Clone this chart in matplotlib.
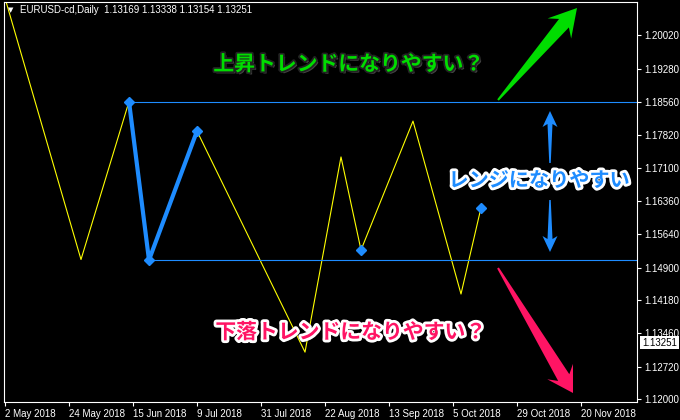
import numpy as np
import matplotlib
matplotlib.use("Agg")
import matplotlib.pyplot as plt
import matplotlib.patheffects as pe
from matplotlib.patches import Polygon

# zigzag vertices (bar index, price)
bar_idx = [0, 19, 31, 36, 48, 75, 84, 89, 102, 114, 119]
prices = [1.2084, 1.1508, 1.1856, 1.1507, 1.1791, 1.1304, 1.1734, 1.1529, 1.1813, 1.1432, 1.1622]
blue_seg = [2, 3, 4]
diamond_pts = [2, 3, 4, 7, 10]
range_top = 1.1856
range_bot = 1.1507
last_price = 1.13251

date_ticks = [0, 16, 32, 48, 64, 80, 96, 112, 128, 144]
date_labels = ["2 May 2018", "24 May 2018", "15 Jun 2018", "9 Jul 2018", "31 Jul 2018",
               "22 Aug 2018", "13 Sep 2018", "5 Oct 2018", "29 Oct 2018", "20 Nov 2018"]
price_ticks = [1.20020, 1.19280, 1.18560, 1.17820, 1.17100, 1.16360, 1.15640,
               1.14900, 1.14180, 1.13460, 1.12720, 1.12000]

W, H = 680, 420
BLUE = "#1e8cff"
GREEN = "#00dd00"
PINK = "#ff1464"

plt.rcParams['font.family'] = ['Liberation Sans', 'DejaVu Sans']
fig = plt.figure(figsize=(W / 100, H / 100), dpi=100, facecolor="black")
ax = fig.add_axes([4 / W, 1 - 402 / H, 633 / W, 400 / H], facecolor="black")

ax.plot(bar_idx, prices, color="yellow", lw=0.8)
ax.plot([bar_idx[i] for i in blue_seg], [prices[i] for i in blue_seg], color=BLUE, lw=3)
ax.plot([bar_idx[i] for i in diamond_pts], [prices[i] for i in diamond_pts], 'D',
        color=BLUE, ms=5.5, ls='none')
ax.plot([bar_idx[2], 158], [range_top, range_top], color=BLUE, lw=0.8)
ax.plot([bar_idx[3], 158], [range_bot, range_bot], color=BLUE, lw=0.8)

ax.set_xlim(-0.25, 158)
ax.set_ylim(1.11941, 1.20754)
ax.set_xticks(date_ticks)
ax.set_xticklabels(date_labels, ha='left')
ax.set_yticks(price_ticks)
ax.set_yticklabels(["%.5f" % p for p in price_ticks])
ax.yaxis.tick_right()
ax.tick_params(colors="white", labelsize=7, length=3, width=0.8, pad=2)
for s in ax.spines.values():
    s.set_color("white")
    s.set_linewidth(0.8)

ax.text(1.008, last_price, "1.13251", transform=ax.get_yaxis_transform(), color="black",
        fontsize=7, va='center', ha='left',
        bbox=dict(facecolor="white", edgecolor="none", pad=1.2))

fig.text(8 / W, 1 - 10 / H, "▼", color="white", fontsize=5, va='center', ha='left',
         family=['DejaVu Sans'])
fig.text(20 / W, 1 - 10 / H, "EURUSD-cd,Daily  1.13169 1.13338 1.13154 1.13251",
         color="white", fontsize=7, va='center', ha='left')

jp = ['Noto Sans CJK JP', 'DejaVu Sans']
fig.text(349 / W, 1 - 64 / H, "上昇トレンドになりやすい？", color=GREEN, fontsize=15,
         fontweight='bold', family=jp, ha='center', va='center',
         path_effects=[pe.withSimplePatchShadow(offset=(1.5, -1.5), shadow_rgbFace='#555555', alpha=0.8),
                       pe.Stroke(linewidth=2.5, foreground='#222222'), pe.Normal()])
fig.text(539 / W, 1 - 180 / H, "レンジになりやすい", color=BLUE, fontsize=14.5,
         fontweight='bold', family=jp, ha='center', va='center',
         path_effects=[pe.withSimplePatchShadow(offset=(1.5, -1.5), shadow_rgbFace='#777777', alpha=0.8),
                       pe.Stroke(linewidth=4, foreground='white'), pe.Normal()])
fig.text(351 / W, 1 - 332 / H, "下落トレンドになりやすい？", color=PINK, fontsize=15,
         fontweight='bold', family=jp, ha='center', va='center',
         path_effects=[pe.withSimplePatchShadow(offset=(1.5, -1.5), shadow_rgbFace='#777777', alpha=0.8),
                       pe.Stroke(linewidth=4, foreground='white'), pe.Normal()])


def arrow(tail, tip, tail_w, neck_w, head_w, head_len, notch, color):
    tail = np.array(tail, float)
    tip = np.array(tip, float)
    d = tip - tail
    d /= np.hypot(*d)
    n = np.array([-d[1], d[0]])
    neck = tip - d * (head_len - notch)
    base = tip - d * head_len
    pts = [tail + n * tail_w / 2, neck + n * neck_w / 2, base + n * head_w / 2, tip,
           base - n * head_w / 2, neck - n * neck_w / 2, tail - n * tail_w / 2]
    pts = [(p[0] / W, 1 - p[1] / H) for p in pts]
    fig.add_artist(Polygon(pts, closed=True, facecolor=color, edgecolor='none',
                           transform=fig.transFigure))


arrow((498, 100), (577, 8), 2, 13, 31, 27, 7, GREEN)
arrow((498, 268), (573, 393), 2, 13, 30, 25, 7, PINK)
arrow((550, 163), (550, 111), 1.5, 5, 15, 16, 3, BLUE)
arrow((550, 200), (550, 252), 1.5, 5, 15, 16, 3, BLUE)

fig.savefig("out.png", dpi=100, facecolor="black")
